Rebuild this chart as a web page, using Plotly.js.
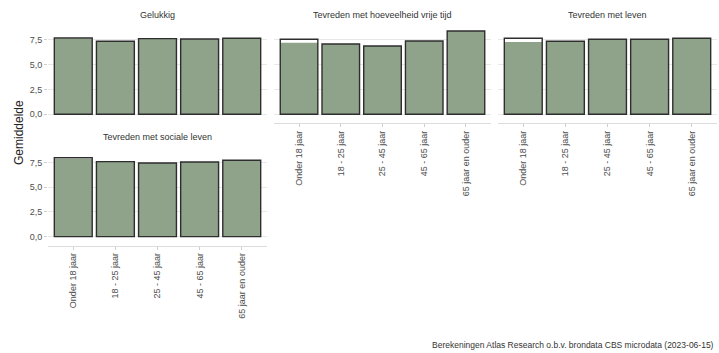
<!DOCTYPE html>
<html>
<head>
<meta charset="utf-8">
<script src="https://cdn.plot.ly/plotly-3.0.1.min.js"></script>
<style>html,body{margin:0;padding:0;background:#fff;}#chart{width:719px;height:353px;}</style>
</head>
<body>
<div id="chart"></div>
<script>
// Data
const categories = ["Onder 18 jaar", "18 - 25 jaar", "25 - 45 jaar", "45 - 65 jaar", "65 jaar en ouder"];
const panelTitles = ["Gelukkig", "Tevreden met hoeveelheid vrije tijd", "Tevreden met leven", "Tevreden met sociale leven"];
// green bars (mean value)
const gelukkig = [7.65, 7.37, 7.64, 7.60, 7.67];
const vrijeTijd = [7.23, 7.09, 6.89, 7.40, 8.41];
const leven = [7.30, 7.37, 7.57, 7.57, 7.67];
const socialeLeven = [7.85, 7.58, 7.45, 7.55, 7.72];
// outlined bars behind (white part visible where higher)
const gelukkigOutline = [7.70, 7.37, 7.64, 7.60, 7.67];
const vrijeTijdOutline = [7.57, 7.09, 6.89, 7.40, 8.41];
const levenOutline = [7.67, 7.37, 7.57, 7.57, 7.67];
const socialeLevenOutline = [7.98, 7.58, 7.45, 7.55, 7.72];
const caption = "Berekeningen Atlas Research o.b.v. brondata CBS microdata (2023-06-15)";
const yLabel = "Gemiddelde";

const W = 719, H = 353;
const green = "#8fa38b";
const edge = "#2e2e2e";

// panel axes: [xaxis id, yaxis id]
const panels = [
  {x: "x4", y: "y4", vals: gelukkig, out: gelukkigOutline},
  {x: "x2", y: "y2", vals: vrijeTijd, out: vrijeTijdOutline},
  {x: "x3", y: "y3", vals: leven, out: levenOutline},
  {x: "x", y: "y", vals: socialeLeven, out: socialeLevenOutline}
];

const traces = [];
panels.forEach(p => {
  traces.push({type: "bar", x: categories, y: p.out, xaxis: p.x, yaxis: p.y, width: 0.9,
    marker: {color: "#ffffff", line: {width: 0}}, hoverinfo: "skip", showlegend: false});
  traces.push({type: "bar", x: categories, y: p.vals, xaxis: p.x, yaxis: p.y, width: 0.9,
    marker: {color: green, line: {width: 0}}, showlegend: false});
  traces.push({type: "bar", x: categories, y: p.out, xaxis: p.x, yaxis: p.y, width: 0.9,
    marker: {color: "rgba(0,0,0,0)", line: {width: 1.4, color: edge}}, hoverinfo: "skip", showlegend: false});
});

const px = v => v / W;
const py = v => 1 - v / H;
const col = [[48, 267], [274, 491], [498, 717]];
const row1 = [py(123.2), py(26.8)];
const row2 = [py(245.5), py(149.3)];
const yr = [-0.9, 8.83];
const tickFont = {family: "Liberation Sans, Arial, sans-serif", size: 9, color: "#4d4d4d"};

function xax(domain, anchor, showLabels) {
  return {domain: domain.map(px), anchor: anchor, type: "category", range: [-0.6, 4.6],
    showgrid: false, zeroline: false, showline: showLabels, linecolor: "#dcdcdc", linewidth: 1,
    ticks: showLabels ? "outside" : "", ticklen: 3, tickcolor: "#cfcfcf",
    showticklabels: showLabels, tickangle: -90, tickfont: tickFont, fixedrange: true};
}
function yax(domain, anchor, showLabels) {
  return {domain: domain, anchor: anchor, range: yr, tickvals: [0, 2.5, 5, 7.5], tickformat: ".1f",
    showgrid: true, gridcolor: "#e8e8e8", gridwidth: 1, zeroline: false, showline: false,
    ticks: showLabels ? "outside" : "", ticklen: 3, tickcolor: "#cfcfcf",
    showticklabels: showLabels, tickfont: tickFont, fixedrange: true};
}

const layout = {
  width: W, height: H,
  margin: {l: 0, r: 0, t: 0, b: 0},
  paper_bgcolor: "#ffffff", plot_bgcolor: "#ffffff",
  barmode: "overlay",
  separators: ",.",
  showlegend: false,
  font: {family: "Liberation Sans, Arial, sans-serif"},
  xaxis: xax(col[0], "y", true),
  yaxis: yax(row2, "x", true),
  xaxis2: xax(col[1], "y2", true),
  yaxis2: yax(row1, "x2", false),
  xaxis3: xax(col[2], "y3", true),
  yaxis3: yax(row1, "x3", false),
  xaxis4: xax(col[0], "y4", false),
  yaxis4: yax(row1, "x4", true),
  annotations: [
    {text: panelTitles[0], x: px((col[0][0] + col[0][1]) / 2), y: py(15), xref: "paper", yref: "paper", showarrow: false, xanchor: "center", yanchor: "middle", font: {size: 9, color: "#333333"}},
    {text: panelTitles[1], x: px((col[1][0] + col[1][1]) / 2), y: py(15), xref: "paper", yref: "paper", showarrow: false, xanchor: "center", yanchor: "middle", font: {size: 9, color: "#333333"}},
    {text: panelTitles[2], x: px((col[2][0] + col[2][1]) / 2), y: py(15), xref: "paper", yref: "paper", showarrow: false, xanchor: "center", yanchor: "middle", font: {size: 9, color: "#333333"}},
    {text: panelTitles[3], x: px((col[0][0] + col[0][1]) / 2), y: py(137), xref: "paper", yref: "paper", showarrow: false, xanchor: "center", yanchor: "middle", font: {size: 9, color: "#333333"}},
    {text: yLabel, x: px(19), y: py(133), xref: "paper", yref: "paper", showarrow: false, xanchor: "center", yanchor: "middle", textangle: -90, font: {size: 12, color: "#222222"}},
    {text: caption, x: px(716), y: py(345), xref: "paper", yref: "paper", showarrow: false, xanchor: "right", yanchor: "middle", font: {size: 8.5, color: "#333333"}}
  ]
};

Plotly.newPlot("chart", traces, layout, {displayModeBar: false, staticPlot: true});
</script>
</body>
</html>
